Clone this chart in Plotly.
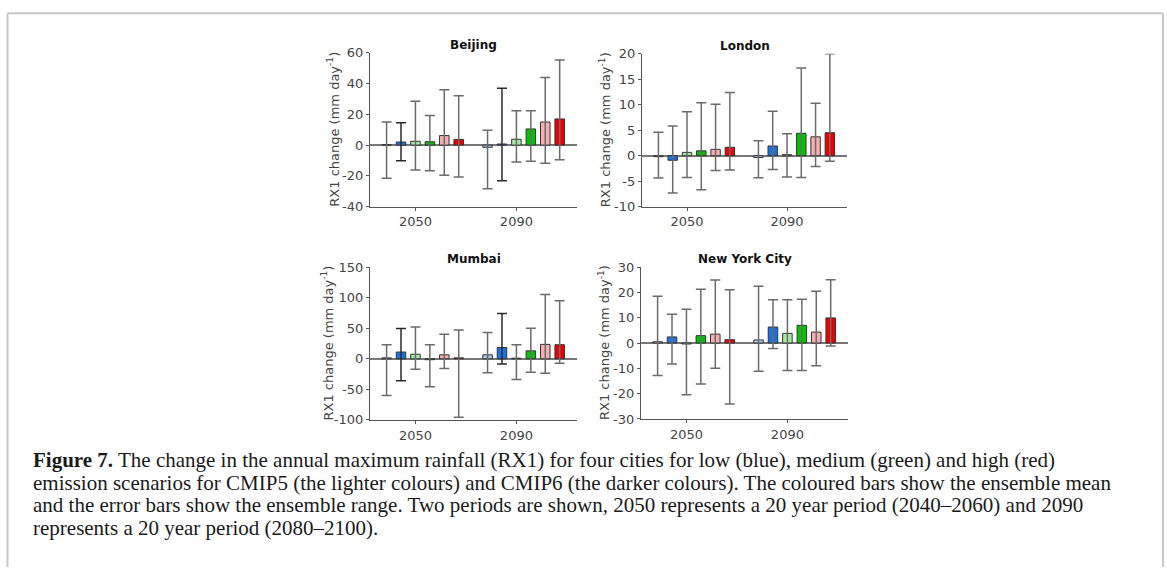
import plotly.graph_objects as go

# ---------------- data ----------------
periods = ["2050", "2090"]
scenarios = ["CMIP5 low", "CMIP6 low", "CMIP5 medium", "CMIP6 medium", "CMIP5 high", "CMIP6 high"]
cities = ["Beijing", "London", "Mumbai", "New York City"]

# ensemble mean / max / min per scenario: [2050, 2090]
beijing_mean = [[0.2, -1.4], [2.0, 0.7], [2.5, 3.8], [2.2, 10.5], [6.2, 15.0], [3.7, 17.0]]
beijing_max = [[15.0, 9.7], [14.5, 37.0], [28.5, 22.4], [19.2, 22.4], [36.0, 44.0], [32.0, 55.3]]
beijing_min = [[-21.6, -28.3], [-10.2, -23.2], [-16.2, -11.0], [-16.7, -10.5], [-19.6, -11.8], [-20.8, -9.5]]

london_mean = [[-0.2, -0.35], [-0.9, 1.9], [0.65, 0.2], [0.95, 4.4], [1.25, 3.7], [1.65, 4.5]]
london_max = [[4.6, 2.95], [5.8, 8.7], [8.6, 4.3], [10.4, 17.2], [10.1, 10.3], [12.4, 20.0]]
london_min = [[-4.4, -4.35], [-7.3, -2.7], [-4.3, -4.2], [-6.7, -4.3], [-2.9, -2.1], [-2.8, -1.1]]

mumbai_mean = [[1.5, 6.5], [11.0, 18.5], [7.5, 1.0], [-1.5, 13.0], [6.5, 23.5], [1.5, 23.0]]
mumbai_max = [[23.0, 43.0], [49.5, 74.0], [52.0, 23.0], [23.0, 50.0], [40.0, 105.0], [47.0, 95.0]]
mumbai_min = [[-60.0, -23.0], [-36.0, -8.5], [-17.0, -34.0], [-45.6, -22.0], [-16.0, -23.5], [-95.5, -7.5]]

nyc_mean = [[0.5, 1.2], [2.4, 6.3], [-0.4, 3.8], [2.9, 7.0], [3.5, 4.3], [1.3, 9.9]]
nyc_max = [[18.5, 22.4], [11.4, 17.1], [13.3, 17.1], [21.2, 17.3], [24.9, 20.4], [21.0, 25.0]]
nyc_min = [[-12.8, -11.2], [-8.3, -2.2], [-20.4, -10.9], [-16.2, -10.9], [-10.0, -9.0], [-24.1, -1.2]]

beijing_ticks = [-40, -20, 0, 20, 40, 60]
london_ticks = [-10, -5, 0, 5, 10, 15, 20]
mumbai_ticks = [-100, -50, 0, 50, 100, 150]
nyc_ticks = [-30, -20, -10, 0, 10, 20, 30]

y_label = "RX1 change (mm day<sup>-1</sup>)"
caption_lines = [
    "<b>Figure 7.</b> The change in the annual maximum rainfall (RX1) for four cities for low (blue), medium (green) and high (red)",
    "emission scenarios for CMIP5 (the lighter colours) and CMIP6 (the darker colours). The coloured bars show the ensemble mean",
    "and the error bars show the ensemble range. Two periods are shown, 2050 represents a 20 year period (2040\u20132060) and 2090",
    "represents a 20 year period (2080\u20132100).",
]

# ---------------- style ----------------
W, H = 1167, 575
colors = ["#a9c9ec", "#1b72e6", "#a6e8a6", "#00c400", "#f6aeb0", "#ec0000"]
group_gap = 7.0      # distance between period groups (bar units)
tick_slot = 2        # tick placed under the 3rd bar of each group
domains_px = {  # x0, x1, ytop, ybottom in pixels
    "Beijing": (370, 577, 47, 205),
    "London": (642, 847, 48, 205),
    "Mumbai": (370, 577, 267, 424),
    "New York City": (641, 848, 267, 423),
}
ytitle_offset = {"Beijing": 37, "London": 37, "Mumbai": 42, "New York City": 37}
dark_err = {("Beijing", 1), ("Mumbai", 1)}
axis_grey = "#555555"
text_grey = "#444444"

data_sets = {
    "Beijing": (beijing_mean, beijing_max, beijing_min, beijing_ticks),
    "London": (london_mean, london_max, london_min, london_ticks),
    "Mumbai": (mumbai_mean, mumbai_max, mumbai_min, mumbai_ticks),
    "New York City": (nyc_mean, nyc_max, nyc_min, nyc_ticks),
}

fig = go.Figure()
layout = {}
annotations = []
shapes = []

tick_vals = [g * group_gap for g in range(len(periods))]

for ci, city in enumerate(cities):
    means, maxs, mins, yticks = data_sets[city]
    sfx = "" if ci == 0 else str(ci + 1)
    xa, ya = "x" + sfx, "y" + sfx
    for si, scen in enumerate(scenarios):
        xs = [g * group_gap + (si - tick_slot) for g in range(len(periods))]
        m = means[si]
        up = [maxs[si][g] - m[g] for g in range(len(periods))]
        dn = [m[g] - mins[si][g] for g in range(len(periods))]
        ecol = "#2a2a2a" if (city, si) in dark_err else "#6b6b6b"
        fig.add_trace(go.Bar(
            x=xs, y=m, width=0.66, name=scen, showlegend=False,
            marker=dict(color=colors[si], line=dict(color="#333333", width=1)),
            error_y=dict(type="data", symmetric=False, array=up, arrayminus=dn,
                         color=ecol, thickness=1.5, width=5),
            xaxis=xa, yaxis=ya,
        ))
    x0, x1, yt, yb = domains_px[city]
    layout["xaxis" + sfx] = dict(
        domain=[x0 / W, x1 / W], anchor=ya, range=[-3.15, 11.2],
        tickmode="array", tickvals=tick_vals, ticktext=periods,
        ticks="outside", ticklen=3, tickcolor=axis_grey,
        showline=True, linecolor=axis_grey, linewidth=1.2,
        showgrid=False, zeroline=False,
        tickfont=dict(family="DejaVu Sans", size=13, color=text_grey),
    )
    layout["yaxis" + sfx] = dict(
        domain=[1 - yb / H, 1 - yt / H], anchor=xa,
        range=[yticks[0], yticks[-1]],
        tickmode="array", tickvals=yticks, ticktext=[str(v) for v in yticks],
        ticks="outside", ticklen=3, tickcolor=axis_grey,
        showline=True, linecolor=axis_grey, linewidth=1.2,
        showgrid=False, zeroline=True, zerolinecolor="#777777", zerolinewidth=1.5,
        tickfont=dict(family="DejaVu Sans", size=13, color=text_grey),
    )
    # panel title
    annotations.append(dict(
        text="<b>%s</b>" % city, x=(x0 + x1) / 2 / W, y=1 - (yt - 8) / H,
        xref="paper", yref="paper", xanchor="center", yanchor="middle",
        showarrow=False, font=dict(family="DejaVu Sans", size=12, color="#111111"),
    ))
    # y-axis title
    annotations.append(dict(
        text=y_label, textangle=-90, x=(x0 - ytitle_offset[city]) / W,
        y=1 - (yt + yb) / 2 / H, xref="paper", yref="paper",
        xanchor="center", yanchor="middle", showarrow=False,
        font=dict(family="DejaVu Sans", size=13, color=text_grey),
    ))

cap_y = [465, 488.4, 511.8, 535.2]
for li, line in enumerate(caption_lines):
    annotations.append(dict(
        text=line, x=32 / W, y=1 - cap_y[li] / H, xref="paper", yref="paper",
        xanchor="left", yanchor="middle", showarrow=False, align="left",
        borderpad=0,
        font=dict(family="Liberation Serif", size=21, color="#1a1a1a"),
    ))

# outer frame of the figure page
frame = dict(type="line", xref="paper", yref="paper", line=dict(color="#c8c8c8", width=2))
shapes.append(dict(frame, x0=7.5 / W, x1=7.5 / W, y0=0, y1=1 - 6.5 / H))
shapes.append(dict(frame, x0=1163 / W, x1=1163 / W, y0=0, y1=1 - 6.5 / H))
shapes.append(dict(frame, x0=7.5 / W, x1=1163 / W, y0=1 - 6.5 / H, y1=1 - 6.5 / H))

fig.update_layout(
    width=W, height=H, margin=dict(l=0, r=0, t=0, b=0),
    paper_bgcolor="white", plot_bgcolor="white",
    barmode="overlay", annotations=annotations, shapes=shapes,
    **layout,
)
fig.write_html("out.html", config={"displayModeBar": False},
               post_script="document.body.style.margin='0';")
